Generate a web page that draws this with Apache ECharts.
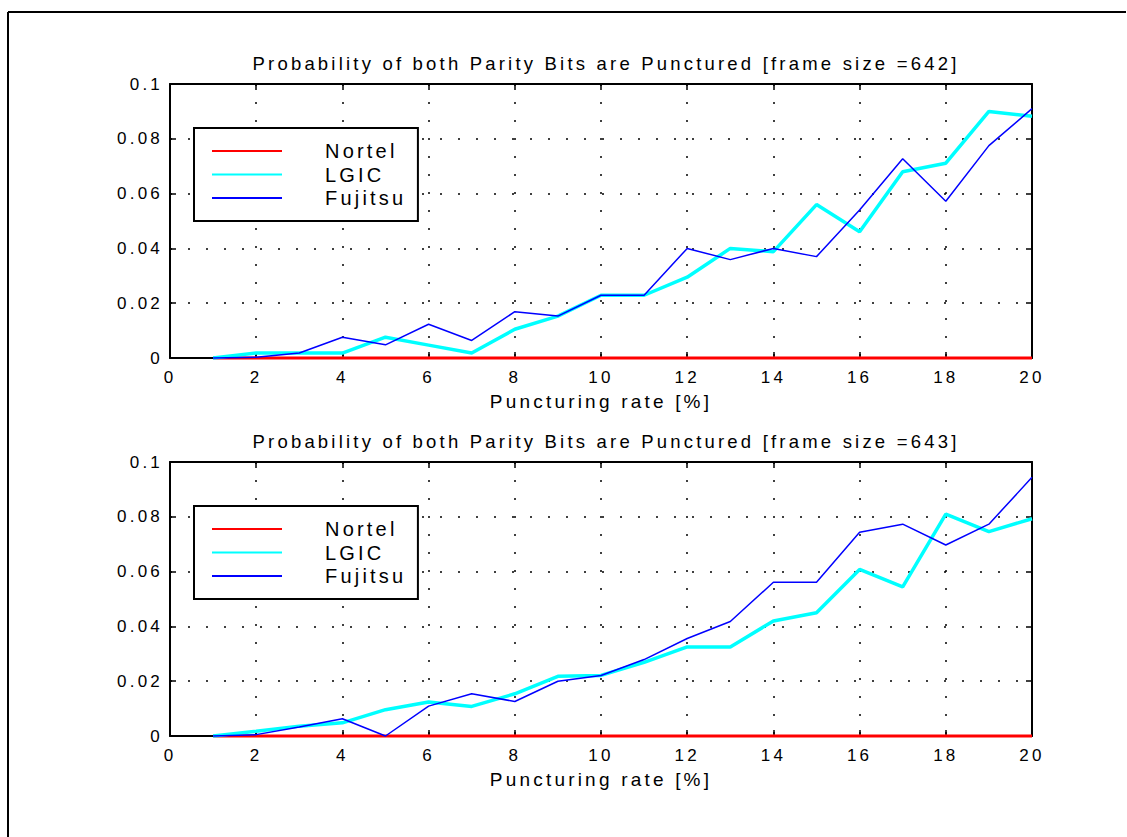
<!DOCTYPE html>
<html>
<head>
<meta charset="utf-8">
<script src="https://cdn.jsdelivr.net/npm/echarts@6/dist/echarts.min.js"></script>
<style>
  html, body { margin: 0; padding: 0; background: #fff; overflow: hidden; }
  #chart { width: 1127px; height: 837px; letter-spacing: 3.2px; overflow: hidden; }
</style>
</head>
<body>
<div id="chart"></div>
<script>
// Puncturing rate in percent (x positions of every sample)
const rates = [1, 2, 3, 4, 5, 6, 7, 8, 9, 10, 11, 12, 13, 14, 15, 16, 17, 18, 19, 20];

// Frame size 642
const nortel642 = [0, 0, 0, 0, 0, 0, 0, 0, 0, 0, 0, 0, 0, 0, 0, 0, 0, 0, 0, 0];
const lgic642 = [0, 0.0018, 0.0018, 0.0018, 0.0076, 0.0047, 0.0018, 0.0105, 0.0153, 0.0229,
                 0.0229, 0.0295, 0.0400, 0.0388, 0.0560, 0.0461, 0.0680, 0.0711, 0.0900, 0.0882];
const fujitsu642 = [0, 0.0003, 0.0018, 0.0076, 0.0048, 0.0123, 0.0064, 0.0169, 0.0153, 0.0229,
                    0.0229, 0.0400, 0.0359, 0.0400, 0.0370, 0.0540, 0.0727, 0.0572, 0.0775, 0.0910];

// Frame size 643
const nortel643 = [0, 0, 0, 0, 0, 0, 0, 0, 0, 0, 0, 0, 0, 0, 0, 0, 0, 0, 0, 0];
const lgic643 = [0, 0.0017, 0.0036, 0.0048, 0.0096, 0.0124, 0.0108, 0.0154, 0.0218, 0.0221,
                 0.0269, 0.0325, 0.0325, 0.0420, 0.0450, 0.0608, 0.0544, 0.0810, 0.0746, 0.0793];
const fujitsu643 = [0, 0.0005, 0.0033, 0.0063, 0, 0.0109, 0.0154, 0.0126, 0.0200, 0.0221,
                    0.0279, 0.0356, 0.0418, 0.0561, 0.0561, 0.0744, 0.0773, 0.0697, 0.0773, 0.0944];

const titles = [
  'Probability of both Parity Bits are Punctured [frame size =642]',
  'Probability of both Parity Bits are Punctured [frame size =643]'
];
const xName = 'Puncturing rate [%]';
const seriesNames = ['Nortel', 'LGIC', 'Fujitsu'];

const FONT = 'Arial, Helvetica, sans-serif';
const colors = ['#ff0000', '#00ffff', '#0000ff'];
const widths = [3, 3.5, 1.5];

const panels = [
  { top: 84, data: [nortel642, lgic642, fujitsu642] },
  { top: 462, data: [nortel643, lgic643, fujitsu643] }
];
const PLOT_LEFT = 170, PLOT_W = 862, PLOT_H = 274;

const pair = arr => rates.map((r, i) => [r, arr[i]]);

const grid = [], xAxis = [], yAxis = [], series = [], title = [], legend = [];

panels.forEach((p, k) => {
  grid.push({ left: PLOT_LEFT, top: p.top, width: PLOT_W, height: PLOT_H });

  title.push({
    text: titles[k], left: PLOT_LEFT + PLOT_W / 2, top: p.top - 35, textAlign: 'center',
    textStyle: { fontFamily: FONT, fontSize: 18.5, fontWeight: 'normal', color: '#000' }
  });

  const tick = { show: true, inside: true, length: 6, lineStyle: { color: '#000', width: 1.5 } };
  const line = { show: true, onZero: false, lineStyle: { color: '#000', width: 2 } };
  const dotted = { show: true, lineStyle: { color: '#000', width: 1.5, type: [2, 16] } };

  xAxis.push({
    type: 'value', gridIndex: k, position: 'bottom', min: 0, max: 20, interval: 2,
    axisLine: line, axisTick: tick, splitLine: dotted,
    axisLabel: { margin: 11, color: '#000', fontFamily: FONT, fontSize: 17 },
    name: xName, nameLocation: 'middle', nameGap: 34,
    nameTextStyle: { color: '#000', fontFamily: FONT, fontSize: 19 }
  });
  xAxis.push({
    type: 'value', gridIndex: k, position: 'top', min: 0, max: 20, interval: 2,
    axisLine: line, axisTick: tick, splitLine: { show: false }, axisLabel: { show: false }
  });
  yAxis.push({
    type: 'value', gridIndex: k, position: 'left', min: 0, max: 0.1, interval: 0.02,
    axisLine: line, axisTick: tick, splitLine: dotted,
    axisLabel: { margin: 7, color: '#000', fontFamily: FONT, fontSize: 17 }
  });
  yAxis.push({
    type: 'value', gridIndex: k, position: 'right', min: 0, max: 0.1, interval: 0.02,
    axisLine: line, axisTick: tick, splitLine: { show: false }, axisLabel: { show: false }
  });

  p.data.forEach((vals, s) => {
    series.push({
      type: 'line', name: seriesNames[s], xAxisIndex: 2 * k, yAxisIndex: 2 * k,
      data: pair(vals), symbol: 'none', clip: false, animation: false,
      lineStyle: { color: colors[s], width: widths[s] }, itemStyle: { color: colors[s] },
      z: 3 + s
    });
  });

  legend.push({
    left: 194, top: p.top + 44, orient: 'vertical',
    data: seriesNames, selectedMode: false,
    backgroundColor: '#fff', borderColor: '#000', borderWidth: 2, borderRadius: 0,
    padding: [12, 34, 12, 17], itemWidth: 70, itemHeight: 14, itemGap: 1.5,
    itemStyle: { opacity: 0 },
    textStyle: { color: '#000', fontFamily: FONT, fontSize: 20, lineHeight: 22, padding: [0, 0, 0, 38] }
  });
});

const chart = echarts.init(document.getElementById('chart'), null, { renderer: 'svg' });
chart.setOption({
  animation: false,
  title, grid, xAxis, yAxis, series, legend,
  // figure frame: top and left edges, running off the page
  graphic: [
    { type: 'line', silent: true, shape: { x1: 8, y1: 12, x2: 1126, y2: 12 },
      style: { stroke: '#000', lineWidth: 2 } },
    { type: 'line', silent: true, shape: { x1: 8, y1: 12, x2: 8, y2: 837 },
      style: { stroke: '#000', lineWidth: 2 } }
  ]
});
</script>
</body>
</html>
